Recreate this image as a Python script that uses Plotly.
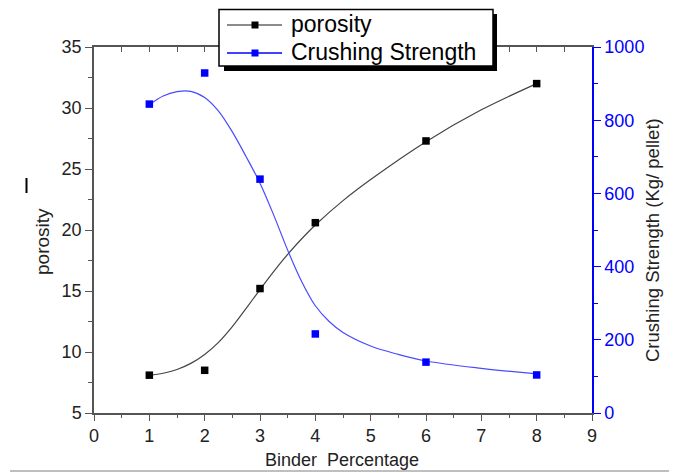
import plotly.graph_objects as go

# ---- data ----
binder = [1, 2, 3, 4, 6, 8]
porosity = [8.1, 8.5, 15.2, 20.6, 27.3, 32.0]
crushing = [844, 929, 639, 216, 139, 104]

# smooth fitted curves
por_fit_x = [1.0, 1.25, 1.5, 1.75, 2.0, 2.25, 2.5, 2.75, 3.0, 3.25, 3.5, 3.75, 4.0, 4.5, 5.0, 6.0, 7.0, 8.0]
por_fit_y = [8.1, 8.26, 8.57, 9.07, 9.8, 10.79, 12.08, 13.58, 15.12, 16.61, 18.0, 19.26, 20.41, 22.41, 24.14, 27.24, 29.85, 32.0]
cs_fit_x = [1.0, 1.25, 1.5, 1.75, 2.0, 2.25, 2.5, 2.75, 3.0, 3.25, 3.5, 3.75, 4.0, 4.25, 4.5, 5.0, 5.5, 6.0, 7.0, 8.0]
cs_fit_y = [842, 866, 878, 879, 862, 825, 768, 700, 628, 540, 445, 360, 293, 250, 220, 183, 160, 142, 122, 107]

series_names = ["porosity", "Crushing Strength"]
x_tick_vals = [0, 1, 2, 3, 4, 5, 6, 7, 8, 9]
left_tick_vals = [5, 10, 15, 20, 25, 30, 35]
right_tick_vals = [0, 200, 400, 600, 800, 1000]

FONT = "Arial, Liberation Sans, sans-serif"
GRAY = "#555555"
BLUE = "#0000ff"

fig = go.Figure()

fig.add_trace(go.Scatter(x=por_fit_x, y=por_fit_y, mode="lines", line=dict(color="#444444", width=1.2, shape="spline"),
                         showlegend=False, hoverinfo="skip"))
fig.add_trace(go.Scatter(x=cs_fit_x, y=cs_fit_y, mode="lines", line=dict(color="#4a4aff", width=1.2, shape="spline"),
                         yaxis="y2", showlegend=False, hoverinfo="skip"))
fig.add_trace(go.Scatter(x=binder, y=porosity, mode="markers", name=series_names[0],
                         marker=dict(symbol="square", size=7.5, color="black"), showlegend=False))
fig.add_trace(go.Scatter(x=binder, y=crushing, mode="markers", yaxis="y2", name=series_names[1],
                         marker=dict(symbol="square", size=7.5, color=BLUE), showlegend=False))
fig.add_trace(go.Scatter(x=[None], y=[None], xaxis="x2", showlegend=False, hoverinfo="skip"))

# the page body has an 8px margin: lay out in page pixels, then shift
OFF = 8
PAGE_W, PAGE_H = 677, 473
W, H = PAGE_W - OFF, PAGE_H - OFF
PL, PR, PT, PB = 94, 592, 47, 413          # plot box in page pixels
L, R, T, B = PL - OFF, W - (PR - OFF), PT - OFF, H - (PB - OFF)
pw, ph = W - L - R, H - T - B

def px(xp):
    return (xp - PL) / pw

def py(yp):
    return (PB - yp) / ph

fig.update_layout(
    width=W, height=H,
    margin=dict(l=L, r=R, t=T, b=B, pad=0, autoexpand=False),
    paper_bgcolor="white", plot_bgcolor="white",
    font=dict(family=FONT, color="#222222", size=18),
    showlegend=False,
    xaxis=dict(range=[0, 9], tickvals=x_tick_vals, showgrid=False, zeroline=False,
               showline=True, linecolor=GRAY, linewidth=1.5,
               ticks="outside", ticklen=6, tickwidth=1.2, tickcolor=GRAY,
               minor=dict(dtick=0.5, ticks="outside", ticklen=3, tickcolor=GRAY, showgrid=False),
               tickfont=dict(size=18, color="#222222")),
    xaxis2=dict(range=[0, 9], overlaying="x", side="top", showgrid=False, zeroline=False,
                showline=True, linecolor=GRAY, linewidth=1.5, showticklabels=False,
                dtick=0.5, tick0=0, ticks="inside", ticklen=5, tickcolor=GRAY, tickwidth=1.2),
    yaxis=dict(range=[5, 35], tickvals=left_tick_vals, showgrid=False, zeroline=False,
               showline=True, linecolor=GRAY, linewidth=1.5,
               ticks="outside", ticklen=7, tickwidth=1.2, tickcolor=GRAY,
               minor=dict(dtick=2.5, ticks="outside", ticklen=4, tickcolor=GRAY, showgrid=False),
               tickfont=dict(size=18, color="#222222")),
    yaxis2=dict(range=[0, 1000], tickvals=right_tick_vals, overlaying="y", side="right",
                showgrid=False, zeroline=False, showline=True, linecolor=BLUE, linewidth=1.5,
                ticks="outside", ticklen=7, tickwidth=1.2, tickcolor=BLUE,
                minor=dict(dtick=100, ticks="outside", ticklen=4, tickcolor=BLUE, showgrid=False),
                tickfont=dict(size=18, color=BLUE)),
)

# ---- hand-built legend (box with drop shadow) ----
fig.add_shape(type="rect", xref="paper", yref="paper", x0=px(224), x1=px(497), y0=py(71), y1=py(14),
              fillcolor="black", line=dict(width=0), layer="above")
fig.add_shape(type="rect", xref="paper", yref="paper", x0=px(219), x1=px(493), y0=py(66), y1=py(9.5),
              fillcolor="white", line=dict(color="black", width=1.5), layer="above")
legend_rows = [(25, "#666666", "black"), (53, BLUE, BLUE)]
for name, (yy, lc, mc) in zip(series_names, legend_rows):
    fig.add_shape(type="line", xref="paper", yref="paper", x0=px(227), x1=px(282), y0=py(yy), y1=py(yy),
                  line=dict(color=lc, width=1.3), layer="above")
    fig.add_shape(type="rect", xref="paper", yref="paper", x0=px(251.5), x1=px(258.5),
                  y0=py(yy + 3.5), y1=py(yy - 3.5), fillcolor=mc, line=dict(width=0), layer="above")
    fig.add_annotation(text=name, xref="paper", yref="paper", x=px(289), y=py(yy - 1),
                       showarrow=False, xanchor="left", yanchor="middle",
                       font=dict(size=23, color="black"))

# page border line at bottom and text cursor mark
fig.add_shape(type="line", xref="paper", yref="paper", x0=px(10), x1=px(677), y0=py(471), y1=py(471),
              line=dict(color="#aaaaaa", width=1.5))
fig.add_shape(type="line", xref="paper", yref="paper", x0=px(26.5), x1=px(26.5), y0=py(178), y1=py(193),
              line=dict(color="black", width=2))

fig.add_annotation(text="porosity", xref="paper", yref="paper", x=px(42), y=py(242),
                   textangle=-90, showarrow=False, xanchor="center", yanchor="middle",
                   font=dict(size=19, color="#222222"))
fig.add_annotation(text="Crushing Strength (Kg/ pellet)", xref="paper", yref="paper", x=px(652), y=py(240),
                   textangle=-90, showarrow=False, xanchor="center", yanchor="middle",
                   font=dict(size=18.5, color="#222222"))
fig.add_annotation(text="Binder  Percentage", xref="paper", yref="paper", x=px(342), y=py(460),
                   showarrow=False, xanchor="center", yanchor="middle",
                   font=dict(size=18, color="#222222"))

fig.write_html("out.html")
